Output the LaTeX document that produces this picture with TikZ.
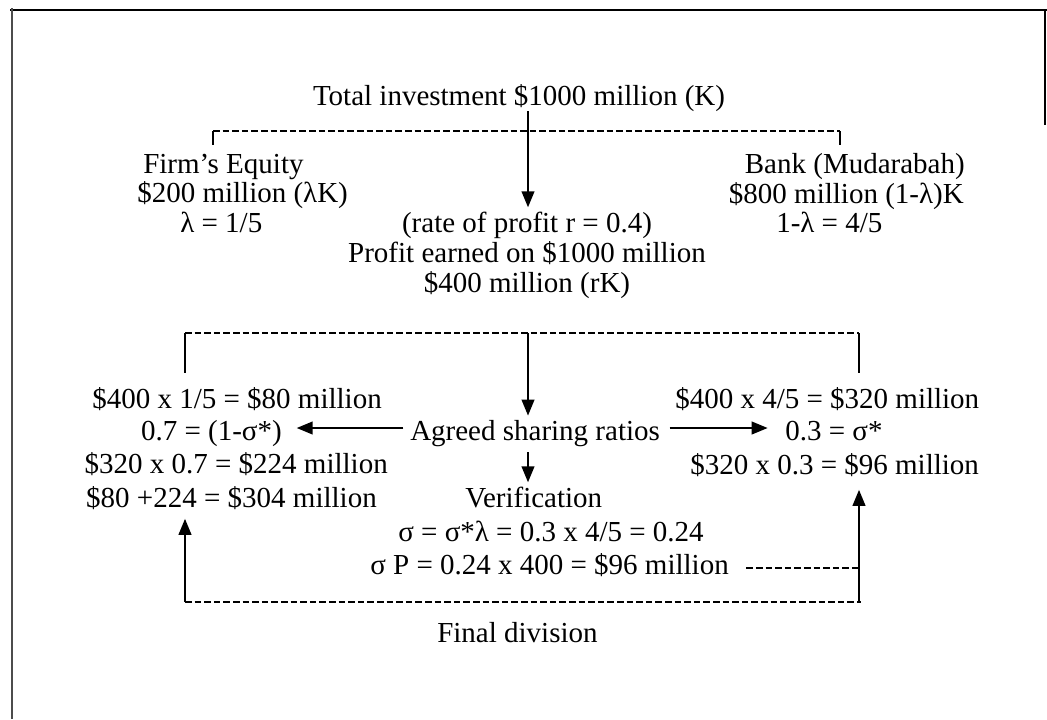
\documentclass[tikz,border=0pt]{standalone}
\usepackage{fontspec}
\setmainfont{Liberation Serif}
\usetikzlibrary{arrows.meta}
\begin{document}
\begin{tikzpicture}[x=0.75pt,y=-0.75pt,
  txt/.style={inner sep=0pt, font=\fontsize{21.75pt}{26pt}\selectfont},
  arr/.style={line width=1.5pt, -{Triangle[length=12pt,width=9.5pt]}},
  solidline/.style={line width=1.1pt},
  dashline/.style={line width=0.8pt, dash pattern=on 5pt off 2.2pt},
  frame/.style={line width=1.5pt}]
\useasboundingbox (0,0) rectangle (1047,719);
% frame
\draw[frame] (10,10) -- (1047,10);
\draw[frame, black!70] (12,8) -- (12,719);
\draw[frame] (1045,10) -- (1045,125);
% texts
\node[txt, anchor=base] (title) at (519,105) {Total investment \$1000 million (K)};
\node[txt, anchor=base west] (firm1) at (143,173) {Firm’s Equity};
\node[txt, anchor=base west] (firm2) at (137,202) {\$200 million (λK)};
\node[txt, anchor=base west] (firm3) at (180,232) {λ = 1/5};
\node[txt, anchor=base east] (bank1) at (965,173) {Bank (Mudarabah)};
\node[txt, anchor=base east] (bank2) at (964,203) {\$800 million (1-λ)K};
\node[txt, anchor=base west] (bank3) at (776,232) {1-λ = 4/5};
\node[txt, anchor=base] (rate) at (527,232) {(rate of profit r = 0.4)};
\node[txt, anchor=base] (profit) at (527,262) {Profit earned on \$1000 million};
\node[txt, anchor=base] (rk) at (527,292) {\$400 million (rK)};
\node[txt, anchor=base east] (l1) at (382,408) {\$400 x 1/5 = \$80 million};
\node[txt, anchor=base east] (l2) at (282,440) {0.7 = (1-σ*)};
\node[txt, anchor=base east] (l3) at (388,473) {\$320 x 0.7 = \$224 million};
\node[txt, anchor=base east] (l4) at (377,507) {\$80 +224 = \$304 million};
\node[txt, anchor=base west] (agreed) at (410,440) {Agreed sharing ratios};
\node[txt, anchor=base west] (r1) at (675,408) {\$400 x 4/5 = \$320 million};
\node[txt, anchor=base west] (r2) at (785,440) {0.3 = σ*};
\node[txt, anchor=base west] (r3) at (690,474) {\$320 x 0.3 = \$96 million};
\node[txt, anchor=base west] (verif) at (465,507) {Verification};
\node[txt, anchor=base west] (sig1) at (398,541) {σ = σ*λ = 0.3 x 4/5 = 0.24};
\node[txt, anchor=base west] (sig2) at (370,574) {σ P = 0.24 x 400 = \$96 million};
\node[txt, anchor=base west] (final) at (437,642) {Final division};
% helper coordinates
\coordinate (cx) at (528,0);
\coordinate (lx) at (185,0);
\coordinate (rx) at (859,0);
\coordinate (d1l) at (213,131);
\coordinate (d1r) at (840,131);
\coordinate (d2l) at (185,333);
\coordinate (d2r) at (859,333);
\coordinate (d3l) at (185,602);
\coordinate (d3r) at (861,602);
% top split
\draw[arr] (title.south -| cx) -- ([yshift=3pt]rate.north -| cx);
\draw[dashline] (d1l) -- (d1r);
\draw[solidline] (d1l) -- ++(0,14);
\draw[solidline] (d1r) -- ++(0,14);
% second split
\draw[dashline] (d2l) -- (d2r);
\draw[solidline] (d2l) -- ++(0,40);
\draw[solidline] (d2r) -- ++(0,40);
\draw[arr] (d2l -| cx) -- ([yshift=3pt]agreed.north -| cx);
% sharing ratios
\draw[arr] ([xshift=-5pt]agreed.west |- 0,428) -- ([xshift=11pt]l2.east |- 0,428);
\draw[arr] ([xshift=7pt]agreed.east |- 0,428) -- ([xshift=-13pt]r2.west |- 0,428);
\draw[arr] (528,452) -- ([yshift=3pt]verif.north -| cx);
% final division
\draw[dashline] ([xshift=13pt]sig2.east |- 0,568) -- (rx |- 0,568);
\draw[dashline] (d3l) -- (d3r);
\draw[arr] (d3l) -- ([yshift=-7pt]l4.south -| lx);
\draw[arr] (rx |- d3l) -- ([yshift=-10pt]r3.south -| rx);
\end{tikzpicture}
\end{document}
